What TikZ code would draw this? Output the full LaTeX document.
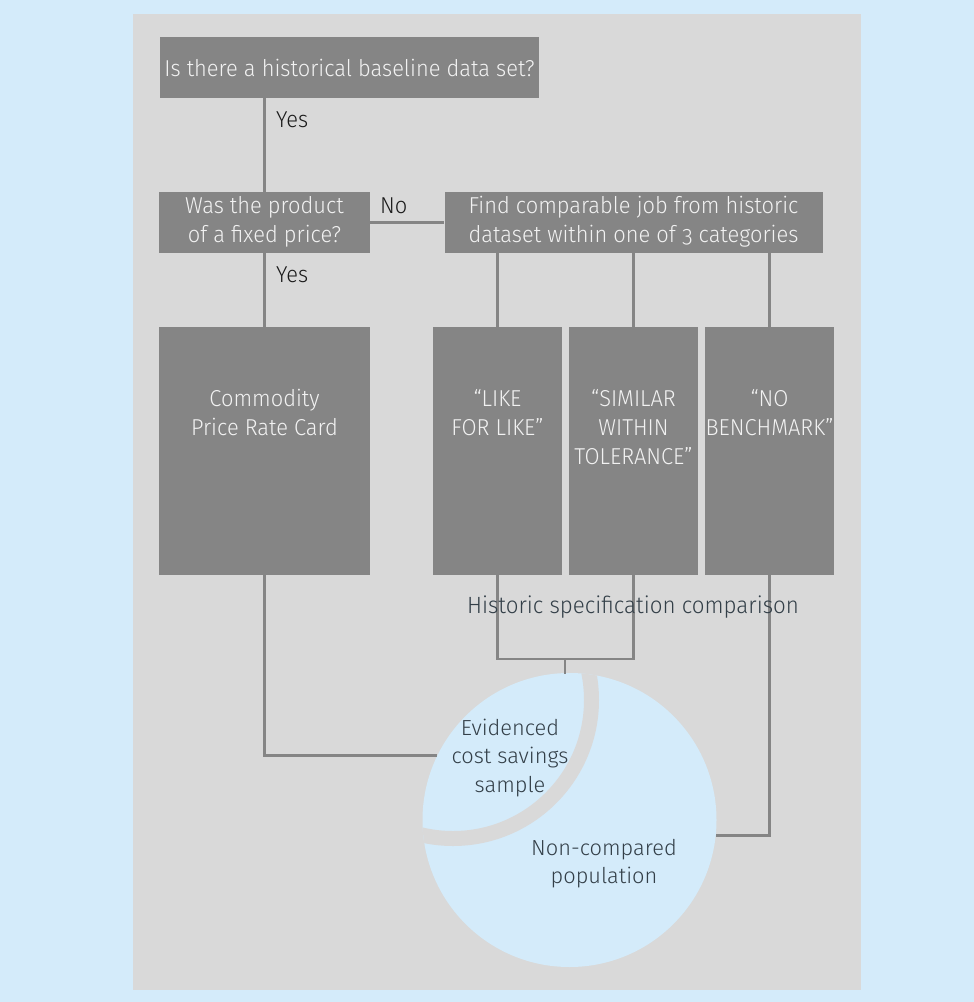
\documentclass[tikz,border=0pt]{standalone}
\usepackage{fontspec}
\IfFontExistsTF{Fira Sans Light}
  {\setmainfont{Fira Sans Light}[Numbers=OldStyle]
   \newfontfamily\condfont{Fira Sans Light}[FakeStretch=0.95, Numbers=OldStyle]}
  {\setmainfont{Fira Sans}[Numbers=OldStyle]
   \newfontfamily\condfont{Fira Sans}[FakeStretch=0.95, Numbers=OldStyle]}

\definecolor{skyback}{HTML}{D4EBFA}
\definecolor{panelgrey}{HTML}{D9D9D9}
\definecolor{boxgrey}{HTML}{858585}
\definecolor{boxtext}{HTML}{F2F2F2}
\definecolor{labeltext}{HTML}{1A1A1A}
\definecolor{darktext}{HTML}{333F48}

\newcommand{\boxfont}{\condfont\fontsize{23}{29}\selectfont}
\newcommand{\poolfont}{\fontsize{21.8}{28.5}\selectfont}

\begin{document}
\begin{tikzpicture}[x=1pt,y=-1pt,
  qbox/.style={rectangle, fill=boxgrey, inner sep=0pt, text=boxtext,
               align=center, font=\boxfont},
  boxlabel/.style={inner sep=0pt, text=boxtext, align=center, font=\boxfont, anchor=north},
  answer/.style={inner sep=0pt, text=labeltext, font=\boxfont, anchor=base west},
  conn/.style={draw=boxgrey, line width=2.5pt},
  pooltext/.style={inner sep=0pt, text=darktext, align=center, font=\poolfont, anchor=north}]

  % page and panel
  \fill[skyback] (0,0) rectangle (974,1002);
  \useasboundingbox (0,0) rectangle (974,1002);
  \fill[panelgrey] (133,14) rectangle (861,990);

  % decision boxes
  \node[qbox, minimum width=379pt, minimum height=61pt] (baseline) at (349.5,67.5)
    {Is there a historical baseline data set?};
  \node[qbox, minimum width=211pt, minimum height=61pt] (fixed) at (264.5,222.5)
    {\strut Was the product\\of a fixed price?\strut};
  \node[qbox, minimum width=378pt, minimum height=61pt] (find) at (633.5,222.5)
    {\strut Find comparable job from historic\\dataset within one of 3 categories\strut};

  % outcome boxes
  \node[qbox, minimum width=211pt, minimum height=248pt] (rate) at (264.5,451) {};
  \node[qbox, minimum width=129pt, minimum height=248pt] (like) at (497.5,451) {};
  \node[qbox, minimum width=129pt, minimum height=248pt] (similar) at (633.5,451) {};
  \node[qbox, minimum width=129pt, minimum height=248pt] (nobench) at (769.5,451) {};

  \node[boxlabel] (ratetext) at (264.5,385.7) {\strut Commodity\\Price Rate Card\strut};
  \node[boxlabel] (liketext) at (497.5,385.7) {\strut “LIKE\\FOR LIKE”\strut};
  \node[boxlabel] (similartext) at (633.5,385.7) {\strut “SIMILAR\\WITHIN\\TOLERANCE”\strut};
  \node[boxlabel] (nobenchtext) at (769.5,385.7) {\strut “NO\\BENCHMARK”\strut};

  % answers
  \node[answer] (yesone) at (276,127) {Yes};
  \node[answer] (yestwo) at (276,282) {Yes};
  \node[answer] (noone) at (380,213) {No};

  % population circle with the sample segment cut out by a band
  \node[circle, fill=skyback, inner sep=0pt, minimum size=294pt] (pool) at (569.5,820) {};
  \begin{scope}
    \clip (569.5,820) circle (147);
    \draw[panelgrey, line width=15pt] (453,700) circle (138.5);
  \end{scope}
  \coordinate (join) at (565,659);

  % connectors
  \draw[conn] (fixed.north) -- (fixed.north |- baseline.south);
  \draw[conn] (fixed.east) -- (find.west);
  \draw[conn] (fixed.south) -- (rate.north);
  \draw[conn] (like.north) -- (like.north |- find.south);
  \draw[conn] (similar.north) -- (similar.north |- find.south);
  \draw[conn] (nobench.north) -- (nobench.north |- find.south);
  \draw[conn] (like.south) -- (like.south |- join) -- (similar.south |- join) -- (similar.south);
  \draw[conn] (join) -- (565,674);
  \draw[conn] (rate.south) |- (pool.154.6);
  \draw[conn] (nobench.south) |- (pool.-6.6);

  % texts outside the boxes
  \node[inner sep=0pt, text=darktext, font=\condfont\fontsize{23.5}{29}\selectfont, anchor=base] (histcomp)
    at (633,613) {Historic specification comparison};
  \node[pooltext] (sampletext) at (510,715) {\strut Evidenced\\cost savings\\sample\strut};
  \node[pooltext] (resttext) at (604,835) {\strut Non-compared\\population\strut};
\end{tikzpicture}
\end{document}
